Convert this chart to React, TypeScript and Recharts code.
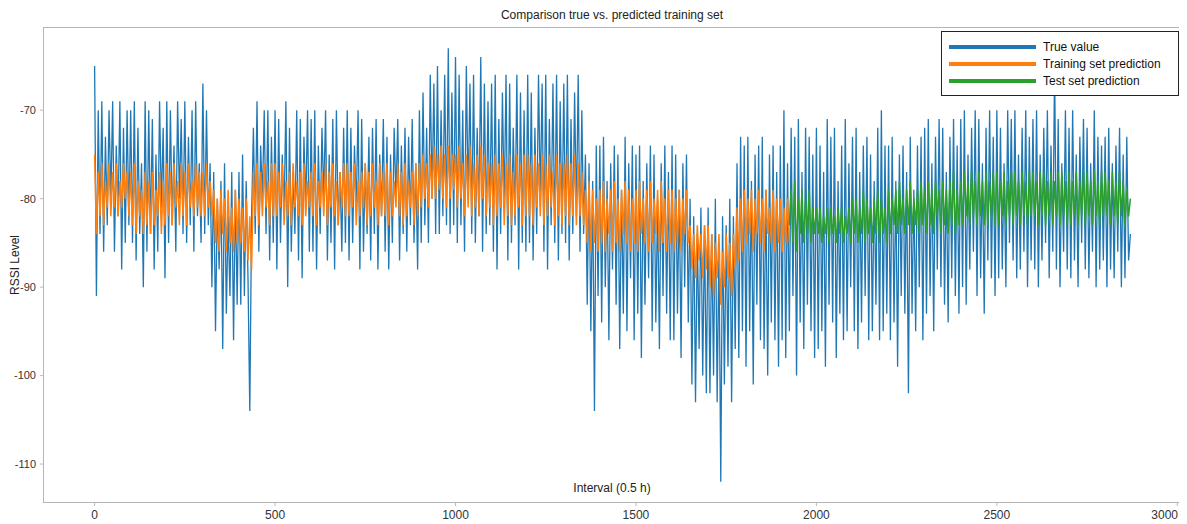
import React from "react";
import { LineChart, Line, XAxis, YAxis } from "recharts";

// RSSI true value, sampled every 5 intervals, index 0..2870
const trueValues: number[] = [
  -65, -91, -70, -84, -69, -86, -73, -83, -70, -80, -69, -86, -74, -82, -69, -88, -72, -85, -70, -83,
  -70, -85, -69, -87, -72, -84, -76, -90, -69, -86, -70, -84, -71, -88, -75, -86, -69, -81, -72, -89,
  -69, -85, -70, -83, -74, -86, -69, -80, -71, -84, -69, -85, -73, -83, -70, -86, -69, -82, -76, -85,
  -67, -84, -70, -83, -76, -90, -77, -95, -80, -88, -78, -97, -76, -93, -82, -91, -77, -96, -79, -92,
  -77, -92, -75, -91, -78, -89, -104, -82, -72, -84, -69, -86, -74, -80, -70, -84, -70, -87, -73, -85,
  -70, -88, -71, -85, -75, -82, -69, -90, -72, -86, -77, -84, -70, -87, -71, -89, -73, -81, -70, -86,
  -71, -86, -70, -88, -74, -84, -72, -80, -70, -87, -75, -85, -71, -88, -70, -83, -77, -86, -72, -85,
  -70, -87, -72, -85, -74, -81, -70, -88, -71, -86, -76, -84, -73, -87, -72, -84, -71, -88, -75, -82,
  -71, -86, -73, -88, -75, -85, -72, -80, -71, -87, -74, -84, -72, -86, -73, -83, -71, -85, -76, -88,
  -70, -85, -68, -83, -72, -85, -66, -80, -67, -84, -65, -84, -70, -82, -66, -83, -63, -84, -68, -83,
  -64, -85, -66, -83, -70, -86, -65, -80, -67, -84, -66, -85, -72, -82, -64, -86, -67, -84, -69, -83,
  -67, -86, -66, -88, -71, -84, -68, -81, -66, -87, -67, -85, -72, -83, -66, -88, -68, -85, -70, -86,
  -66, -85, -68, -87, -72, -84, -66, -80, -67, -86, -66, -88, -71, -83, -67, -85, -66, -87, -69, -84,
  -67, -85, -66, -87, -71, -84, -68, -82, -66, -86, -70, -84, -75, -92, -76, -95, -78, -104, -74, -91,
  -74, -94, -73, -90, -78, -96, -76, -88, -74, -92, -75, -97, -79, -93, -73, -95, -76, -89, -74, -96,
  -75, -93, -74, -98, -78, -92, -76, -89, -74, -95, -75, -94, -80, -97, -76, -91, -74, -93, -77, -96,
  -74, -96, -75, -93, -79, -98, -76, -90, -75, -94, -80, -101, -82, -103, -84, -97, -81, -100, -83, -102,
  -81, -102, -84, -100, -80, -103, -85, -112, -82, -101, -83, -99, -80, -103, -82, -97, -76, -98, -73, -95,
  -74, -99, -73, -95, -78, -101, -75, -92, -74, -96, -73, -97, -79, -100, -75, -94, -74, -96, -77, -99,
  -74, -96, -70, -98, -76, -95, -72, -91, -73, -100, -71, -94, -77, -97, -72, -92, -73, -95, -75, -98,
  -72, -97, -74, -95, -77, -99, -71, -92, -73, -94, -72, -98, -78, -93, -74, -96, -71, -95, -76, -90,
  -73, -95, -72, -97, -77, -94, -74, -91, -73, -96, -75, -95, -78, -92, -72, -96, -70, -95, -74, -93,
  -74, -96, -73, -94, -78, -99, -75, -91, -74, -93, -77, -102, -73, -93, -79, -95, -74, -90, -73, -96,
  -72, -93, -71, -91, -76, -95, -73, -88, -71, -90, -72, -92, -77, -94, -73, -89, -71, -91, -74, -93,
  -71, -90, -70, -92, -75, -88, -72, -86, -70, -91, -71, -89, -76, -93, -72, -87, -70, -89, -73, -91,
  -70, -89, -72, -88, -76, -90, -70, -85, -71, -87, -70, -89, -75, -88, -72, -86, -70, -90, -73, -87,
  -71, -88, -70, -90, -75, -87, -72, -85, -70, -89, -74, -86, -65, -88, -71, -90, -76, -86, -70, -88,
  -72, -89, -70, -87, -75, -90, -73, -85, -71, -88, -72, -89, -76, -86, -70, -90, -73, -88, -74, -87,
  -73, -90, -72, -88, -76, -89, -74, -86, -72, -90, -75, -89, -73, -87, -84,
];

// training set prediction, index 0..1925 step 5
const trainPred: number[] = [
  -75, -84, -77, -82, -76, -83, -78, -81, -76, -82, -77, -81, -76, -82, -78, -81, -76, -80, -77, -82,
  -77, -83, -76, -84, -78, -82, -79, -84, -77, -83, -78, -84, -77, -83, -79, -82, -77, -84, -78, -83,
  -76, -82, -77, -83, -76, -81, -78, -83, -76, -82, -77, -83, -76, -81, -78, -82, -76, -81, -77, -82,
  -77, -82, -76, -81, -78, -82, -79, -85, -80, -86, -79, -84, -80, -86, -79, -85, -81, -86, -79, -85,
  -80, -85, -81, -86, -80, -87, -82, -88, -77, -82, -76, -83, -77, -82, -76, -81, -78, -83, -76, -82,
  -76, -82, -77, -81, -76, -83, -78, -82, -77, -83, -76, -81, -78, -82, -77, -83, -76, -82, -78, -81,
  -77, -82, -76, -83, -78, -81, -77, -82, -76, -83, -77, -81, -76, -82, -78, -83, -77, -81, -76, -82,
  -76, -82, -77, -81, -76, -83, -78, -82, -77, -81, -76, -83, -77, -82, -76, -81, -78, -83, -76, -82,
  -77, -82, -76, -83, -77, -82, -78, -81, -76, -82, -77, -83, -76, -82, -78, -81, -77, -83, -76, -82,
  -76, -81, -75, -80, -76, -81, -75, -80, -74, -80, -75, -79, -74, -80, -75, -81, -74, -80, -75, -79,
  -75, -81, -74, -80, -76, -82, -75, -81, -74, -82, -76, -81, -75, -82, -74, -80, -75, -82, -76, -81,
  -76, -83, -75, -82, -76, -81, -75, -83, -76, -82, -75, -83, -77, -82, -75, -81, -76, -83, -75, -82,
  -75, -82, -76, -83, -75, -81, -76, -82, -75, -83, -76, -82, -75, -81, -77, -83, -75, -82, -76, -83,
  -76, -82, -75, -83, -76, -82, -75, -83, -76, -82, -77, -83, -79, -85, -78, -86, -79, -85, -80, -86,
  -79, -85, -78, -86, -80, -84, -79, -86, -78, -85, -80, -86, -79, -84, -78, -85, -79, -86, -80, -85,
  -79, -86, -78, -84, -80, -85, -79, -86, -78, -85, -80, -84, -79, -86, -78, -85, -80, -86, -79, -85,
  -79, -86, -80, -85, -79, -86, -80, -84, -79, -85, -83, -88, -84, -89, -83, -87, -84, -89, -83, -88,
  -83, -90, -84, -91, -85, -89, -84, -92, -86, -90, -84, -89, -85, -91, -84, -88, -81, -87, -80, -86,
  -79, -85, -80, -84, -79, -86, -80, -84, -79, -85, -80, -86, -79, -84, -81, -85, -79, -86, -80, -85,
  -80, -86, -81, -85, -80, -85,
];

// test set prediction, index 1925..2870 step 5
const testStart = 1925;
const testPred: number[] = [
  -83, -79, -85, -78, -86, -80, -84, -79, -85, -80, -84, -79, -85, -81, -84,
  -81, -84, -81, -85, -82, -84, -81, -85, -81, -84, -82, -85, -81, -84, -81, -85, -82, -84, -81, -85,
  -80, -84, -80, -85, -81, -84, -79, -85, -80, -84, -81, -85, -80, -84, -79, -85, -80, -84, -81, -85,
  -79, -84, -80, -83, -79, -84, -78, -83, -80, -84, -79, -83, -78, -84, -80, -83, -79, -84, -78, -83,
  -79, -84, -78, -83, -79, -84, -78, -82, -79, -84, -78, -83, -79, -84, -78, -83, -77, -84, -79, -83,
  -78, -83, -77, -82, -78, -83, -77, -82, -78, -83, -77, -82, -78, -83, -77, -83, -78, -82, -77, -83,
  -77, -83, -78, -82, -77, -83, -78, -82, -77, -83, -77, -82, -78, -83, -77, -82, -78, -83, -77, -82,
  -77, -82, -78, -83, -77, -82, -77, -83, -78, -82, -77, -83, -78, -82, -77, -83, -77, -82, -78, -83,
  -77, -83, -78, -82, -77, -83, -78, -82, -77, -83, -77, -82, -78, -83, -77, -82, -78, -83, -77, -82,
  -77, -82, -78, -83, -77, -82, -78, -83, -77, -82, -78, -83, -79, -82, -80,
];

const xTicks = [0, 500, 1000, 1500, 2000, 2500, 3000];
const yTicks = [-110, -100, -90, -80, -70];

const STEP = 5;

const data = trueValues.map((v, k) => {
  const i = k * STEP;
  const row: { i: number; t: number; p?: number; g?: number } = { i, t: v };
  if (k < trainPred.length) row.p = trainPred[k];
  if (i >= testStart) {
    const j = (i - testStart) / STEP;
    if (j < testPred.length) row.g = testPred[j];
  }
  return row;
});

const FONT = '"Liberation Sans", Arial, sans-serif';

const legendItems = [
  { label: "True value", color: "#1f77b4" },
  { label: "Training set prediction", color: "#ff7f0e" },
  { label: "Test set prediction", color: "#2ca02c" },
];

const XTick = (props: any) => {
  const { x, y, payload } = props;
  const last = payload.value === 3000;
  return (
    <text
      x={last ? x + 7 : x}
      y={y}
      dy="0.71em"
      textAnchor={last ? "end" : "middle"}
      fontSize={12}
      fill="#333"
      fontFamily={FONT}
    >
      {payload.value}
    </text>
  );
};

export default function App() {
  return (
    <div style={{ position: "relative", width: 1179, height: 516, fontFamily: FONT, background: "#fff" }}>
      <LineChart
        width={1179}
        height={516}
        data={data}
        margin={{ top: 19, right: 5, bottom: 0, left: 0 }}
      >
        <XAxis
          dataKey="i"
          type="number"
          domain={[-143, 3013]}
          ticks={xTicks}
          allowDataOverflow
          height={21}
          axisLine={false}
          tickLine={{ stroke: "#bbb" }}
          tickSize={3}
          tickMargin={4}
          tick={<XTick />}
        />
        <YAxis
          type="number"
          domain={[-114.4, -60.6]}
          ticks={yTicks}
          allowDataOverflow
          width={35}
          axisLine={false}
          tickLine={{ stroke: "#bbb" }}
          tickSize={3}
          tickMargin={4}
          tick={{ fontSize: 11, fill: "#333", fontFamily: FONT }}
        />
        <Line dataKey="t" stroke="#1f77b4" strokeWidth={1.3} dot={false} isAnimationActive={false} />
        <Line dataKey="p" stroke="#ff7f0e" strokeWidth={1.5} dot={false} isAnimationActive={false} />
        <Line dataKey="g" stroke="#2ca02c" strokeWidth={1.5} dot={false} isAnimationActive={false} />
      </LineChart>

      {/* plot frame */}
      <div
        style={{
          position: "absolute",
          left: 35,
          top: 19,
          width: 1139,
          height: 476,
          border: "1px solid #b5b5b5",
          boxSizing: "border-box",
          pointerEvents: "none",
        }}
      />

      {/* title */}
      <div
        style={{
          position: "absolute",
          left: 604,
          top: 0,
          transform: "translateX(-50%)",
          whiteSpace: "nowrap",
          fontSize: 12,
          lineHeight: "14px",
          color: "#222",
        }}
      >
        Comparison true vs. predicted training set
      </div>

      {/* x label */}
      <div
        style={{
          position: "absolute",
          left: 604,
          top: 473,
          transform: "translateX(-50%)",
          whiteSpace: "nowrap",
          fontSize: 12,
          lineHeight: "14px",
          color: "#222",
        }}
      >
        Interval (0.5 h)
      </div>

      {/* y label */}
      <div
        style={{
          position: "absolute",
          left: 7,
          top: 257,
          transform: "translate(-50%, -50%) rotate(-90deg)",
          whiteSpace: "nowrap",
          fontSize: 12,
          lineHeight: "14px",
          color: "#222",
        }}
      >
        RSSI Level
      </div>

      {/* legend */}
      <div
        style={{
          position: "absolute",
          left: 933,
          top: 23,
          width: 238,
          height: 65,
          border: "1px solid #222",
          boxSizing: "border-box",
          background: "#fff",
        }}
      >
        {legendItems.map((it, k) => (
          <div key={it.label} style={{ position: "absolute", left: 0, top: 15 + k * 17 - 8, height: 16, width: "100%" }}>
            <div
              style={{
                position: "absolute",
                left: 7,
                top: 6,
                width: 87,
                height: 4,
                background: it.color,
              }}
            />
            <div
              style={{
                position: "absolute",
                left: 101,
                top: 0,
                fontSize: 12,
                lineHeight: "16px",
                color: "#111",
                whiteSpace: "nowrap",
              }}
            >
              {it.label}
            </div>
          </div>
        ))}
      </div>
    </div>
  );
}
